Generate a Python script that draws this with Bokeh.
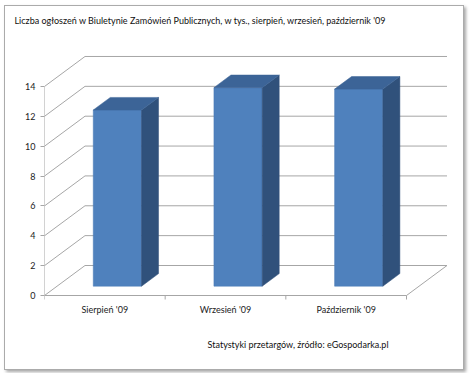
from bokeh.plotting import figure
from bokeh.models import Range1d, FixedTicker, Title, ColumnDataSource
from bokeh.embed import file_html
from bokeh.resources import INLINE

# ---- data ----
categories = ["Sierpień '09", "Wrzesień '09", "Październik '09"]
values = [11.8, 13.3, 13.2]
y_ticks = [0, 2, 4, 6, 8, 10, 12, 14]
title_text = "Liczba ogłoszeń w Biuletynie Zamówień Publicznych, w tys., sierpień, wrzesień, październik '09"
footer_text = "Statystyki przetargów, źródło: eGospodarka.pl"

# ---- geometry / style (page pixels) ----
OFF_X, OFF_Y = 5, 6            # figure placed inside the framed box
W, H = 458, 363
FRAME_L, FRAME_R, FRAME_T, FRAME_B = 44 - OFF_X, 450 - OFF_X, 50 - OFF_Y, 300 - OFF_Y
ORIGIN_Y_PX = 295 - OFF_Y
CAT_PX = 120.67
UNIT_PX = 14.93
DX = 40.5 / CAT_PX      # depth offset in category units
DY = 30.0 / UNIT_PX     # depth offset in value units
BAR_HALF = 0.2
T_FRONT, T_BACK = 0.31, 0.73
YMAX = max(y_ticks)
FONT = "Lato"
GRID = "#A6A6A6"
n = len(categories)

p = figure(width=W, height=H, output_backend="svg", toolbar_location=None,
           x_range=Range1d(0, (FRAME_R - FRAME_L) / CAT_PX),
           y_range=Range1d(-(FRAME_B - ORIGIN_Y_PX) / UNIT_PX, (ORIGIN_Y_PX - FRAME_T) / UNIT_PX),
           min_border_left=FRAME_L, min_border_right=W - FRAME_R,
           min_border_top=FRAME_T, min_border_bottom=H - FRAME_B,
           margin=(OFF_Y, 0, 0, OFF_X),
           styles={"box-shadow": "0 0 0 1px #ABABAB, 2px 2px 3px 1px rgba(0,0,0,0.35)"})
p.outline_line_color = None
p.xgrid.visible = False
p.ygrid.visible = False
p.background_fill_color = "white"
p.border_fill_color = "white"

# walls: diagonals and back gridlines
p.segment(x0=[0] * len(y_ticks), y0=y_ticks, x1=[DX] * len(y_ticks), y1=[t + DY for t in y_ticks],
          line_color=GRID, line_width=1)
p.segment(x0=[DX] * len(y_ticks), y0=[t + DY for t in y_ticks],
          x1=[n + DX] * len(y_ticks), y1=[t + DY for t in y_ticks],
          line_color=GRID, line_width=1)
# floor front and right edges
p.segment(x0=[0, n], y0=[0, 0], x1=[n, n + DX], y1=[0, DY], line_color=GRID, line_width=1)
# floor separators
tick_len = 4 / UNIT_PX
p.segment(x0=list(range(n + 1)), y0=[0] * (n + 1), x1=list(range(n + 1)), y1=[-tick_len] * (n + 1),
          line_color=GRID, line_width=1)
# front vertical axis line
p.segment(x0=[0], y0=[0], x1=[0], y1=[YMAX], line_color=GRID, line_width=1)

# bars
ox0, oy0 = T_FRONT * DX, T_FRONT * DY
ox1, oy1 = T_BACK * DX, T_BACK * DY
centers = [i + 0.5 for i in range(n)]
front = ColumnDataSource(dict(
    left=[c - BAR_HALF + ox0 for c in centers],
    right=[c + BAR_HALF + ox0 for c in centers],
    bottom=[oy0] * n,
    top=[v + oy0 for v in values]))
p.quad(left="left", right="right", bottom="bottom", top="top", source=front,
       fill_color="#4F81BD", line_color="#4A7AB4", line_width=0.5)
side_xs, side_ys, top_xs, top_ys = [], [], [], []
for c, v in zip(centers, values):
    xr0, xr1 = c + BAR_HALF + ox0, c + BAR_HALF + ox1
    xl0, xl1 = c - BAR_HALF + ox0, c - BAR_HALF + ox1
    side_xs.append([xr0, xr1, xr1, xr0])
    side_ys.append([oy0, oy1, v + oy1, v + oy0])
    top_xs.append([xl0, xl1, xr1, xr0])
    top_ys.append([v + oy0, v + oy1, v + oy1, v + oy0])
p.patches(side_xs, side_ys, fill_color="#30517B", line_color="#30517B", line_width=0.5)
p.patches(top_xs, top_ys, fill_color="#3C6497", line_color="#3C6497", line_width=0.5)

# y axis
p.yaxis.ticker = FixedTicker(ticks=y_ticks)
p.yaxis.axis_line_color = None
p.yaxis.major_tick_out = 4
p.yaxis.major_tick_in = 0
p.yaxis.major_tick_line_color = GRID
p.yaxis.minor_tick_line_color = None
p.yaxis.major_label_standoff = 5
p.yaxis.major_label_text_font = FONT
p.yaxis.major_label_text_font_size = "9px"
p.yaxis.major_label_text_color = "#222222"

# x axis (category labels)
p.xaxis.ticker = FixedTicker(ticks=centers)
p.xaxis.major_label_overrides = {c: lab for c, lab in zip(centers, categories)}
p.xaxis.axis_line_color = None
p.xaxis.major_tick_out = 0
p.xaxis.major_tick_in = 0
p.xaxis.minor_tick_line_color = None
p.xaxis.major_label_standoff = 3
p.xaxis.major_label_text_font = FONT
p.xaxis.major_label_text_font_size = "9px"
p.xaxis.major_label_text_color = "#222222"

# texts (title padded with blank lines so it sits higher above the plot)
p.add_layout(Title(text=title_text + "\n\u00a0\n\u00a0", align="left", offset=14 - 44, standoff=2,
                   vertical_align="top",
                   text_font=FONT, text_font_size="9px", text_font_style="normal",
                   text_color="#111111"), "above")
p.add_layout(Title(text=footer_text, align="right", offset=450 - 388, standoff=39,
                   text_font=FONT, text_font_size="9px", text_font_style="normal",
                   text_color="#111111"), "below")

open("out.html", "w").write(file_html(p, INLINE))
